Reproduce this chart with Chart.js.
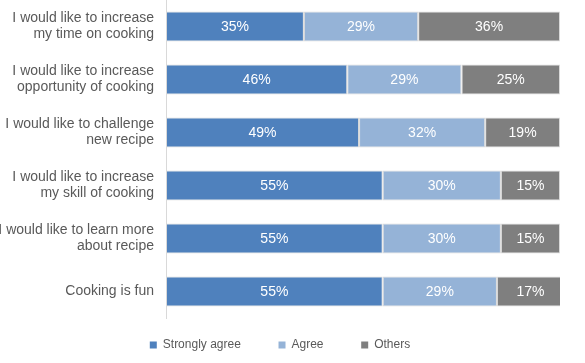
<!DOCTYPE html>
<html lang="en">
<head>
    <meta charset="UTF-8">
    <title>Cooking attitudes</title>
    <script src="https://cdn.jsdelivr.net/npm/chart.js"></script>
    <style>
        body { margin: 0; background: #fff; }
        #wrap { width: 585px; height: 363px; position: relative; }
    </style>
</head>
<body>
    <div id="wrap"><canvas id="chart"></canvas></div>
    <script>
        // --- data ---
        const categories = [
            ['I would like to increase', 'my time on cooking'],
            ['I would like to increase', 'opportunity of cooking'],
            ['I would like to challenge', 'new recipe'],
            ['I would like to increase', 'my skill of cooking'],
            ['I would like to learn more', 'about recipe'],
            'Cooking is fun'
        ];
        const stronglyAgree = [35, 46, 49, 55, 55, 55];
        const agree = [29, 29, 32, 30, 30, 29];
        const others = [36, 25, 19, 15, 15, 17];

        const textColor = '#595959';
        const fontFamily = 'Arial, "Liberation Sans", sans-serif';

        // draws the percentage in the middle of each segment
        const segmentLabels = {
            id: 'segmentLabels',
            afterDatasetsDraw(chart) {
                const ctx = chart.ctx;
                ctx.save();
                ctx.font = '14px ' + fontFamily;
                ctx.fillStyle = '#fff';
                ctx.textAlign = 'center';
                ctx.textBaseline = 'middle';
                chart.data.datasets.forEach((ds, i) => {
                    const meta = chart.getDatasetMeta(i);
                    meta.data.forEach((bar, j) => {
                        const p = bar.getCenterPoint();
                        ctx.fillText(ds.data[j] + '%', p.x, p.y + 1);
                    });
                });
                ctx.restore();
            }
        };

        function makeSet(label, data, color) {
            return {
                label: label,
                data: data,
                backgroundColor: color,
                borderColor: '#d9d9d9',
                borderWidth: 1,
                borderSkipped: false,
                barPercentage: 0.57,
                categoryPercentage: 1
            };
        }

        // legend items sit further apart than the row padding allows, pad with spaces
        const legendGap = ['\u00a0\u00a0\u00a0\u00a0\u00a0', '\u00a0\u00a0\u00a0\u00a0\u00a0', ''];

        new Chart(document.getElementById('chart'), {
            type: 'bar',
            data: {
                labels: categories,
                datasets: [
                    makeSet('Strongly agree', stronglyAgree, '#4f81bd'),
                    makeSet('Agree', agree, '#95b3d7'),
                    makeSet('Others', others, '#7f7f7f')
                ]
            },
            options: {
                indexAxis: 'y',
                responsive: true,
                maintainAspectRatio: false,
                animation: false,
                layout: { padding: { top: 0, right: 25, bottom: 2, left: 0 } },
                scales: {
                    x: {
                        stacked: true,
                        min: 0,
                        max: 100,
                        display: false
                    },
                    y: {
                        stacked: true,
                        grid: { display: false, drawTicks: false },
                        border: { display: true, color: '#d9d9d9', width: 1 },
                        ticks: {
                            color: textColor,
                            padding: 12,
                            font: { family: fontFamily, size: 14, lineHeight: 1.15 }
                        },
                        afterFit(scale) {
                            scale.width = 166;
                            scale.paddingTop = 0;
                            scale.paddingBottom = 0;
                        }
                    }
                },
                plugins: {
                    tooltip: { enabled: false },
                    legend: {
                        position: 'bottom',
                        labels: {
                            color: textColor,
                            boxWidth: 7,
                            boxHeight: 7,
                            padding: 21,
                            font: { family: fontFamily, size: 12 },
                            generateLabels(chart) {
                                const items = Chart.defaults.plugins.legend.labels.generateLabels(chart);
                                items.forEach((it, i) => {
                                    it.text = it.text + legendGap[i];
                                    it.lineWidth = 0;
                                });
                                return items;
                            }
                        }
                    }
                }
            },
            plugins: [segmentLabels]
        });
    </script>
</body>
</html>
